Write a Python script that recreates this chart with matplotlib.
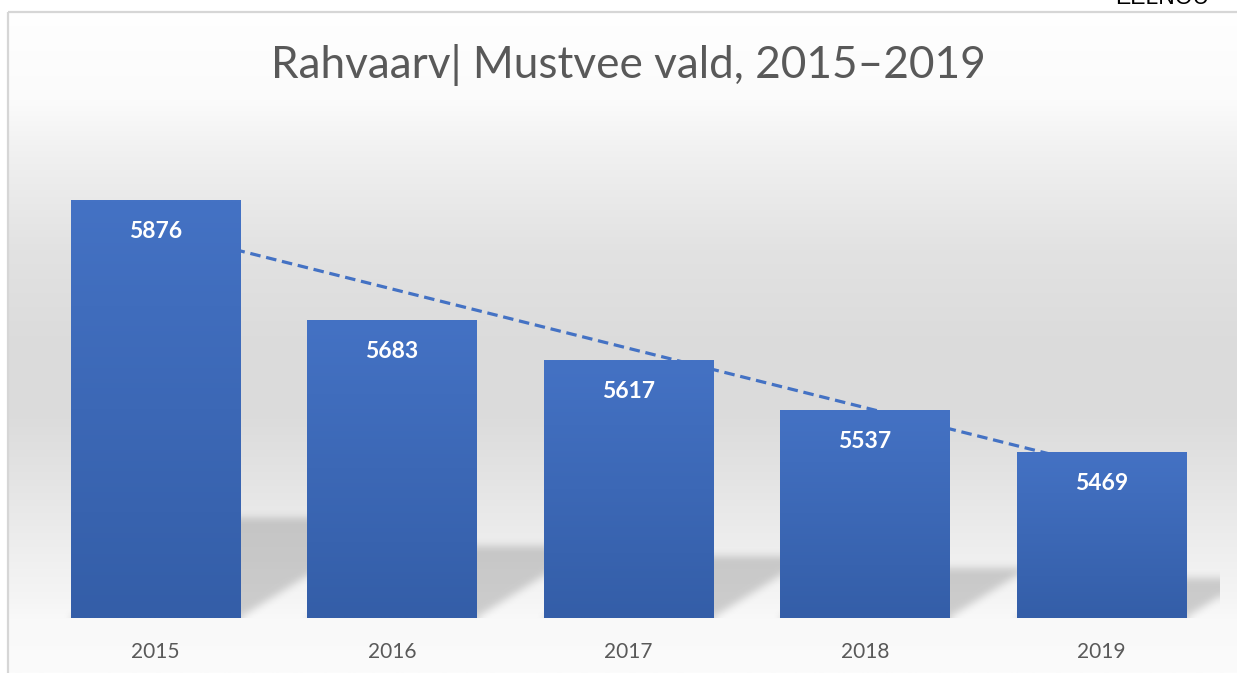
import matplotlib
matplotlib.use('Agg')
import matplotlib.pyplot as plt
import numpy as np

years = ['2015', '2016', '2017', '2018', '2019']
population = [5876, 5683, 5617, 5537, 5469]
title = 'Rahvaarv| Mustvee vald, 2015–2019'
stamp = 'EELNÕU'
y_min, y_max = 5200, 6000

W, H = 1237, 673
fig = plt.figure(figsize=(W / 100, H / 100), dpi=100)

# page background with the chart area gradient and frame
bg = fig.add_axes([0, 0, 1, 1], zorder=0)
bg.set_xlim(0, W)
bg.set_ylim(H, 0)
bg.axis('off')
gy = np.linspace(12, H, 400)
g = np.interp(gy, [0, 100, 150, 250, 350, 420, 480, 540, 600, 620, 673],
              [255, 251, 241, 226, 219, 220, 228, 237, 245, 249, 251]) / 255
grad = np.repeat(g[:, None], 2, axis=1)
bg.imshow(np.dstack([grad] * 3), extent=(8, W, H, 12), aspect='auto',
          interpolation='bilinear')
bg.plot([8, 8], [H, 11.5], color='#d6d6d6', lw=1.6, solid_capstyle='butt')
bg.plot([8, W], [11.5, 11.5], color='#d6d6d6', lw=1.6, solid_capstyle='butt')
# stamp is cut by the top edge, as in the source page
bg.text(1115, 4, stamp, fontsize=16.5, family='Liberation Sans', va='baseline',
        ha='left', color='black')
bg.set_xlim(0, W)
bg.set_ylim(H, 0)

# plot area
ax_l, ax_w = 37.25, 1182.5
ax_b, ax_h = 618, 494.4
ax = fig.add_axes([ax_l / W, (H - ax_b) / H, ax_w / W, ax_h / H], zorder=1)
ax.patch.set_alpha(0)

x = np.arange(len(years))
vals = np.array(population)
bw = 0.715

# soft perspective shadows behind the bars
nx, ny = int(ax_w), int(ax_h)
X, Y = np.meshgrid(np.linspace(-0.5, 4.5, nx), np.linspace(y_min, y_max, ny))
px_x = ax_w / 5
px_y = ax_h / (y_max - y_min)
mask = np.zeros_like(X)
for xi, v in zip(x, vals):
    hs = 0.24 * (v - y_min)
    dx = 1.6 * (Y - y_min) * px_y / px_x
    m = (Y <= y_min + hs) & (X >= xi - bw / 2 + dx) & (X <= xi + bw / 2 + dx)
    mask = np.maximum(mask, m.astype(float))


def box_blur(a, r, axis):
    pad = [(0, 0), (0, 0)]
    pad[axis] = (r, r)
    p = np.pad(a, pad, mode='edge')
    c = np.cumsum(p, axis=axis)
    c = np.insert(c, 0, 0, axis=axis)
    n = a.shape[axis]
    hi = np.take(c, np.arange(2 * r + 1, 2 * r + 1 + n), axis=axis)
    lo = np.take(c, np.arange(0, n), axis=axis)
    return (hi - lo) / (2 * r + 1)


for _ in range(2):
    mask = box_blur(box_blur(mask, 4, 0), 4, 1)
shadow = np.zeros((ny, nx, 4))
shadow[..., :3] = 0.5
shadow[..., 3] = 0.35 * mask
ax.imshow(shadow, extent=(-0.5, 4.5, y_min, y_max), origin='lower',
          aspect='auto', zorder=1, interpolation='bilinear')

# linear trend line
coef = np.polyfit(x, vals, 1)
ax.plot(x, np.polyval(coef, x), ls=(0, (3.3, 1.8)), lw=2.3, color='#4472C4',
        zorder=2)

# bars with vertical gradient
bars = ax.bar(x, vals - y_min, bottom=y_min, width=bw, color='none',
              edgecolor='none', zorder=3)
top_c = np.array([68, 114, 196]) / 255
bot_c = np.array([52, 94, 168]) / 255
t = np.linspace(0, 1, 100)[:, None]
bar_grad = (top_c * (1 - t) + bot_c * t)[:, None, :]
for b in bars:
    x0, y0 = b.get_x(), b.get_y()
    im = ax.imshow(bar_grad, extent=(x0, x0 + b.get_width(), y0, y0 + b.get_height()),
                   aspect='auto', zorder=3, interpolation='bilinear')
    im.set_clip_path(b)

for xi, v in zip(x, vals):
    ax.annotate(str(v), (xi, v), xytext=(0, -38 * 0.72), textcoords='offset points',
                ha='center', va='baseline', color='white', fontsize=16.5,
                fontweight='bold', family='Lato', zorder=5)

ax.set_xlim(-0.5, 4.5)
ax.set_ylim(y_min, y_max)
ax.set_xticks(x, years)
ax.tick_params(axis='x', length=0, pad=17, labelsize=15, labelcolor='#595959')
for lab in ax.get_xticklabels():
    lab.set_family('Lato')
ax.set_yticks([])
for s in ax.spines.values():
    s.set_visible(False)

fig.text(628.5 / W, 1 - 78 / H, title, ha='center', va='baseline', fontsize=31.8,
         color='#595959', family='Lato')

fig.savefig('out.png', dpi=100)
